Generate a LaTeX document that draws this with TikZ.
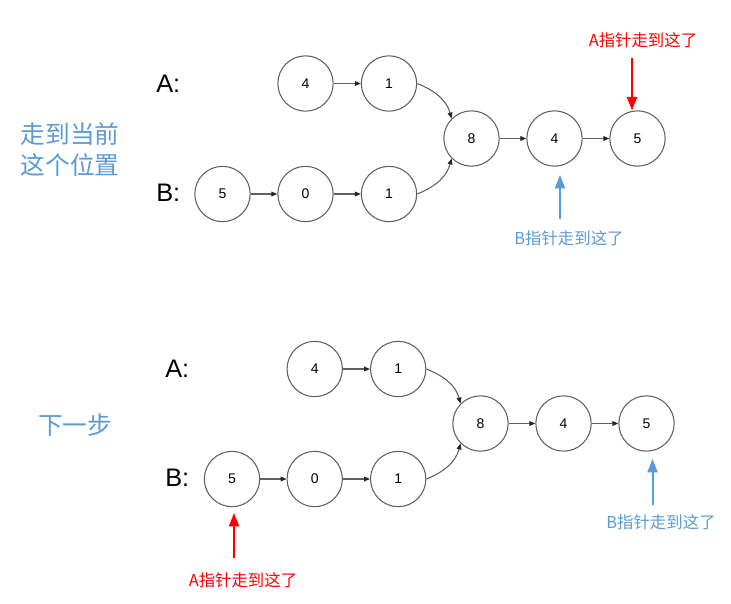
\documentclass[tikz,border=0pt]{standalone}
\usepackage{fontspec}
\setmainfont{Liberation Sans}
\newfontfamily\cjk{Noto Sans CJK SC}
\usetikzlibrary{arrows.meta}
\definecolor{tblue}{RGB}{91,155,213}
\definecolor{tred}{RGB}{255,0,0}
\definecolor{cgray}{RGB}{96,96,96}
\begin{document}
\begin{tikzpicture}[x=0.75pt,y=-0.75pt,
  lnode/.style={circle,draw=cgray,line width=0.8pt,minimum size=41.5pt,inner sep=0pt,font=\fontsize{10.5}{12}\selectfont},
  link/.style={draw=cgray,line width=0.8pt,-{Triangle[length=4.5pt,width=3.6pt,color=black!85,fill=black!85]}},
  rowlab/.style={anchor=west,inner sep=0pt,font=\fontsize{19}{22}\selectfont},
  bigcjk/.style={text=tblue,inner sep=0pt,font=\cjk\fontsize{18.5}{23.5}\selectfont,align=left},
  ptrred/.style={draw=tred,line width=1.5pt,-{Triangle[length=10pt,width=7.5pt]}},
  ptrblue/.style={draw=tblue,line width=1.5pt,-{Triangle[length=10pt,width=7.5pt]}},
  lblred/.style={text=tred,inner sep=0pt,font=\cjk\fontsize{12.3}{14}\selectfont},
  lblblue/.style={text=tblue,inner sep=0pt,font=\cjk\fontsize{12.3}{14}\selectfont}]
\useasboundingbox (0,0) rectangle (731,603);
% ---------- top diagram ----------
\node[bigcjk] (t1) at (70,149.5) {走到当前\\这个位置};
\node[rowlab] (tA) at (156,83.5) {A:};
\node[rowlab] (tB) at (156,193) {B:};
\node[lnode] (ta4) at (305.5,83.5) {4};
\node[lnode] (ta1) at (389,83.5) {1};
\node[lnode] (tb5) at (222.5,194) {5};
\node[lnode] (tb0) at (305.5,194) {0};
\node[lnode] (tb1) at (389,194) {1};
\node[lnode] (tc8) at (471.5,138.5) {8};
\node[lnode] (tc4) at (554.5,138.5) {4};
\node[lnode] (tc5) at (637.5,138.5) {5};
\draw[link] (ta4) -- (ta1);
\draw[link] (tb5) -- (tb0);
\draw[link] (tb0) -- (tb1);
\draw[link] (tc8) -- (tc4);
\draw[link] (tc4) -- (tc5);
\draw[link] (ta1.east) to[out=-22,in=105] (tc8.135);
\draw[link] (tb1.east) to[out=22,in=-105] (tc8.-135);
\node[lblred] (tla) at (643,40) {A指针走到这了};
\coordinate (tpa) at (632,58);
\draw[ptrred] (tpa) -- (tc5.north -| tpa);
\node[lblblue] (tlb) at (569,238) {B指针走到这了};
\coordinate (tpb) at (560,219);
\draw[ptrblue] (tpb) -- (560,175);
% ---------- bottom diagram ----------
\node[bigcjk] (b1t) at (75,425) {下一步};
\node[rowlab] (bA) at (165,368.5) {A:};
\node[rowlab] (bB) at (165,478) {B:};
\node[lnode] (ba4) at (314.7,369) {4};
\node[lnode] (ba1) at (398.2,369) {1};
\node[lnode] (bb5) at (232,479) {5};
\node[lnode] (bb0) at (314.7,479) {0};
\node[lnode] (bb1) at (398.2,479) {1};
\node[lnode] (bc8) at (480.5,423.5) {8};
\node[lnode] (bc4) at (563.5,423.5) {4};
\node[lnode] (bc5) at (646.5,423.5) {5};
\draw[link] (ba4) -- (ba1);
\draw[link] (bb5) -- (bb0);
\draw[link] (bb0) -- (bb1);
\draw[link] (bc8) -- (bc4);
\draw[link] (bc4) -- (bc5);
\draw[link] (ba1.east) to[out=-22,in=105] (bc8.135);
\draw[link] (bb1.east) to[out=22,in=-105] (bc8.-135);
\coordinate (bpa) at (234,558);
\draw[ptrred] (bpa) -- (234,513);
\node[lblred] (bla) at (243,580) {A指针走到这了};
\coordinate (bpb) at (652.5,505);
\draw[ptrblue] (bpb) -- (652.5,459);
\node[lblblue] (blb) at (661,522) {B指针走到这了};
\end{tikzpicture}
\end{document}
